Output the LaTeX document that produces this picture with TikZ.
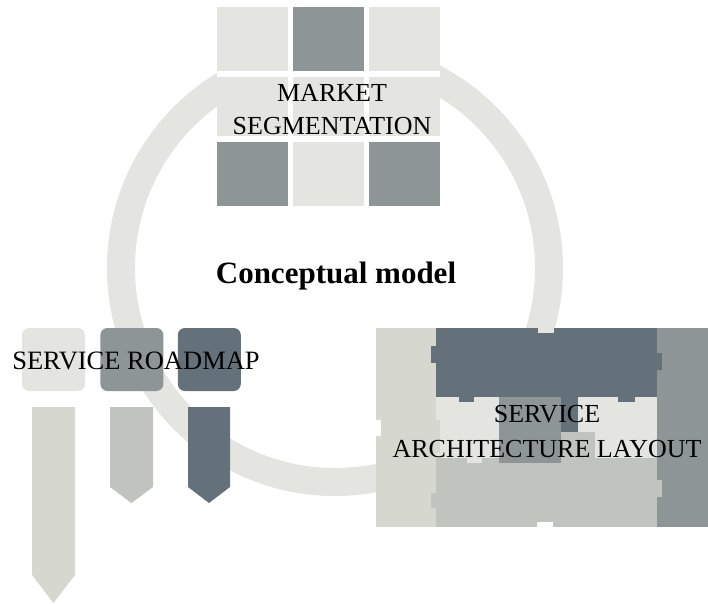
\documentclass[tikz,border=0pt]{standalone}
\usepackage{fontspec}
\setmainfont{Liberation Serif}
\usetikzlibrary{matrix,positioning}
\definecolor{ringgray}{HTML}{E4E5E1}
\definecolor{midgray}{HTML}{8E9597}
\definecolor{slate}{HTML}{65717A}
\definecolor{palegray}{HTML}{C1C3BE}
\definecolor{sage}{HTML}{D6D8D0}
\begin{document}
\begin{tikzpicture}[x=1pt,y=-1pt,
tile/.style={rectangle, inner sep=0pt, minimum width=71pt, minimum height=64pt},
midtile/.style={tile, minimum height=59pt},
stepbox/.style={rectangle, rounded corners=7pt, inner sep=0pt, minimum size=63pt},
txt/.style={align=center, inner sep=0pt, font=\fontsize{26}{33}\selectfont},
]
\useasboundingbox (0,0) rectangle (708,603);
%ring behind everything
\coordinate (hub) at (335,268);
\draw [ringgray, line width=28pt] (hub) circle [radius=214pt];
%segmentation grid
\matrix (seg) at (328.5,106.5) [row sep=6pt, column sep=5pt, inner sep=0pt, fill=white]{
\node (s11) [tile,fill=ringgray] {};&
\node (s12) [tile,fill=midgray] {};&
\node (s13) [tile,fill=ringgray] {};\\
\node (s21) [midtile,fill=ringgray] {};&
\node (s22) [midtile,fill=ringgray] {};&
\node (s23) [midtile,fill=ringgray] {};\\
\node (s31) [tile,fill=midgray] {};&
\node (s32) [tile,fill=ringgray] {};&
\node (s33) [tile,fill=midgray] {};\\
};
\node (mkt) [txt] at (332,110) {MARKET\\SEGMENTATION};
%centre
\node (concept) [txt, font=\fontsize{31}{36}\selectfont\bfseries] at (336,276) {Conceptual model};
%roadmap
\node (rb1) [stepbox, fill=ringgray] at (53.5,359.5) {};
\node (rb2) [stepbox, fill=midgray, right=15pt of rb1] {};
\node (rb3) [stepbox, fill=slate, right=14pt of rb2] {};
\fill [sage] (32,407)--(75,407)--(75,575)--(53.5,603)--(32,575)--cycle;
\fill [palegray] (110,407)--(153,407)--(153,487)--(131.5,503)--(110,487)--cycle;
\fill [slate] (188,407)--(230,407)--(230,487)--(209,503)--(188,487)--cycle;
\node (roadmap) [txt, font=\fontsize{26.5}{32}\selectfont] at (136,361) {SERVICE ROADMAP};
%architecture puzzle
\fill [sage] (376,328) rectangle (436,527);
\fill [midgray] (657,328) rectangle (708,527);
\fill [ringgray] (436,397) rectangle (657,458);
\fill [slate] (436,328) rectangle (657,397);
\fill [slate] (431,346) rectangle (436,363);
\fill [slate] (657,353) rectangle (662,370);
\fill [slate] (459,397) rectangle (474,402);
\fill [slate] (618,397) rectangle (635,402);
\fill [ringgray] (538,328) rectangle (554,333);
\fill [midgray] (499,397) rectangle (561,463);
\fill [slate] (561,397) rectangle (578,432);
\fill [palegray] (561,432) rectangle (595,458);
\fill [palegray] (436,458) rectangle (657,527);
\fill [midgray] (499,458) rectangle (561,463);
\fill [ringgray] (467,458) rectangle (482,463);
\fill [palegray] (431,493) rectangle (436,508);
\fill [palegray] (657,480) rectangle (662,497);
\fill [sage] (436,420) rectangle (440,453);
\fill [white] (376,420) rectangle (381,436);
\fill [white] (537,522) rectangle (553,527);
\node (arch) [txt, font=\fontsize{26}{35}\selectfont] at (547,432) {SERVICE\\ARCHITECTURE LAYOUT};
\end{tikzpicture}
\end{document}
